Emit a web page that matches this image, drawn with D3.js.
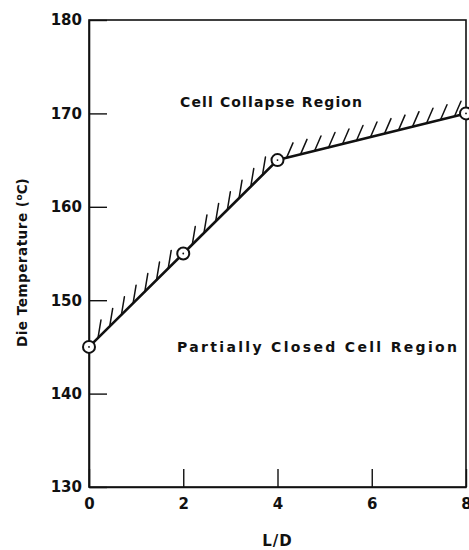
<!DOCTYPE html>
<html>
<head>
<meta charset="utf-8">
<script src="https://cdn.jsdelivr.net/npm/d3@7"></script>
<style>
  html, body { margin: 0; padding: 0; background: #fff; }
  svg { display: block; }
  text { font-family: "DejaVu Sans", "Liberation Sans", Arial, sans-serif; font-weight: bold; fill: #111; }
</style>
</head>
<body>
<svg id="chart" width="469" height="550"></svg>
<script>
// L/D ratio of the die vs. die temperature at the cell-collapse boundary
const ld = [0, 2, 4, 8];
const dieTemp = [145, 155, 165, 170];
const xTicks = [0, 2, 4, 6, 8];
const yTicks = [130, 140, 150, 160, 170, 180];
const xTitle = "L/D";
const yTitle = "Die Temperature";
const upperLabel = "Cell Collapse Region";
const lowerLabel = "Partially Closed Cell Region";

const svg = d3.select("#chart");
const plotLeft = 89, plotRight = 466, plotTop = 20, plotBottom = 487;

const x = d3.scaleLinear().domain([0, 8]).range([plotLeft, plotRight]);
const y = d3.scaleLinear().domain([130, 180]).range([plotBottom, plotTop]);

const ink = "#111";

// spread a label's letters so it runs to the given width
function spreadTo(sel, width) {
  const w = sel.node().getComputedTextLength();
  const n = sel.text().length;
  sel.style("letter-spacing", ((width - w) / (n - 1)).toFixed(2) + "px");
}

// frame
svg.append("rect")
  .attr("x", plotLeft).attr("y", plotTop)
  .attr("width", plotRight - plotLeft).attr("height", plotBottom - plotTop)
  .attr("fill", "none").attr("stroke", ink).attr("stroke-width", 1.6);

// axes with inward ticks
const xAxis = svg.append("g")
  .attr("transform", `translate(0,${plotBottom})`)
  .call(d3.axisBottom(x).tickValues(xTicks).tickFormat(d3.format("d"))
    .tickSizeInner(-18).tickSizeOuter(0).tickPadding(9));
const yAxis = svg.append("g")
  .attr("transform", `translate(${plotLeft},0)`)
  .call(d3.axisLeft(y).tickValues(yTicks).tickFormat(d3.format("d"))
    .tickSizeInner(-18).tickSizeOuter(0).tickPadding(7));

[xAxis, yAxis].forEach(g => {
  g.select(".domain").attr("stroke", ink).attr("stroke-width", 1.6);
  g.selectAll(".tick line").attr("stroke", ink).attr("stroke-width", 1.4);
  g.selectAll(".tick text")
    .attr("fill", ink)
    .style("font-size", "15px")
    .style("font-family", "'DejaVu Sans', 'Liberation Sans', Arial, sans-serif")
    .style("font-weight", "bold");
});
xAxis.selectAll(".tick text").attr("dy", "0.85em");

// axis titles
svg.append("text")
  .attr("x", x(4)).attr("y", 546)
  .attr("text-anchor", "middle")
  .style("font-size", "15px")
  .style("letter-spacing", "1px")
  .text(xTitle);

const yt = svg.append("text")
  .attr("transform", `translate(27,347) rotate(-90)`)
  .attr("text-anchor", "start")
  .style("font-size", "13.5px");
const ytMain = yt.append("tspan").text(yTitle + " (");
yt.append("tspan").attr("dy", "-5").style("font-size", "9px").text("o");
yt.append("tspan").attr("dy", "5").text("C)");
spreadTo(ytMain, 146);

// region labels
const up = svg.append("text")
  .attr("x", 180).attr("y", 107)
  .style("font-size", "14px")
  .text(upperLabel);
spreadTo(up, 182);
const low = svg.append("text")
  .attr("x", 177).attr("y", 352)
  .style("font-size", "14px")
  .text(lowerLabel);
spreadTo(low, 280);

// boundary line
const pts = ld.map((d, i) => [x(d), y(dieTemp[i])]);
svg.append("path")
  .attr("d", d3.line()(pts))
  .attr("fill", "none").attr("stroke", ink)
  .attr("stroke-width", 2.6).attr("stroke-linejoin", "round");

// hatching on the collapse side of the boundary
const hatch = svg.append("g").attr("stroke", ink).attr("stroke-width", 1.5).attr("stroke-linecap", "round");
for (let i = 0; i < pts.length - 1; i++) {
  const [x0, y0] = pts[i], [x1, y1] = pts[i + 1];
  const steep = Math.abs((y1 - y0) / (x1 - x0)) > 0.6;
  const step = steep ? 11.7 : 14;
  const dx = steep ? 3 : 6.5, dy = steep ? -18 : -15;
  for (let hx = x0 + 9; hx < x1 - 4; hx += step) {
    const t = (hx - x0) / (x1 - x0);
    const hy = y0 + t * (y1 - y0);
    hatch.append("line")
      .attr("x1", hx).attr("y1", hy)
      .attr("x2", hx + dx).attr("y2", hy + dy);
  }
}

// data points: open circles with a centre dot
const marks = svg.append("g");
marks.selectAll("circle.pt").data(ld).join("circle")
  .attr("class", "pt")
  .attr("cx", d => x(d)).attr("cy", (d, i) => y(dieTemp[i]))
  .attr("r", 6).attr("fill", "#fff").attr("stroke", ink).attr("stroke-width", 2);
marks.selectAll("circle.dot").data(ld).join("circle")
  .attr("class", "dot")
  .attr("cx", d => x(d)).attr("cy", (d, i) => y(dieTemp[i]))
  .attr("r", 0.9).attr("fill", ink);
</script>
</body>
</html>
